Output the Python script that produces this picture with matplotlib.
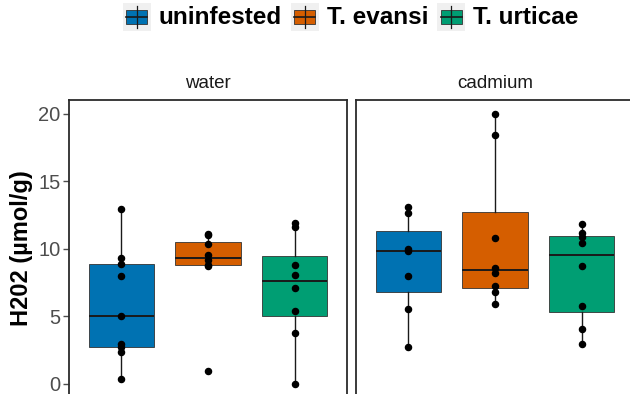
import matplotlib
matplotlib.use("Agg")
import matplotlib.pyplot as plt
from matplotlib.patches import Rectangle
from matplotlib.lines import Line2D


# H2O2 content per plant, grouped by treatment (panel) and herbivore (box)
treatments = ["water", "cadmium"]
groups = ["uninfested", "T. evansi", "T. urticae"]
colors = ["#0072B2", "#D55E00", "#009E73"]

water_uninfested = [0.37, 2.4, 2.74, 2.95, 5.06, 8.02, 8.89, 9.31, 12.94]
water_evansi = [0.96, 8.75, 8.82, 9.15, 9.55, 10.35, 11.0, 11.1]
water_urticae = [0.0, 3.75, 5.43, 7.09, 8.07, 8.77, 11.6, 11.9]

cadmium_uninfested = [2.77, 5.56, 8.02, 9.8, 9.95, 12.62, 13.06]
cadmium_evansi = [5.95, 6.79, 7.21, 8.2, 8.6, 10.81, 18.44, 20.0]
cadmium_urticae = [2.96, 4.1, 5.73, 8.7, 10.4, 10.9, 11.2, 11.8]

panel_data = {
    "water": [water_uninfested, water_evansi, water_urticae],
    "cadmium": [cadmium_uninfested, cadmium_evansi, cadmium_urticae],
}

yticks = [0, 5, 10, 15, 20]

plt.rcParams["font.family"] = ["Liberation Sans", "DejaVu Sans"]

W, H = 630, 394
fig = plt.figure(figsize=(W / 100, H / 100), dpi=100)


def fx(x):
    return x / W


def fy(y):
    return 1 - y / H


# panel geometry in pixels (top-left origin); y range -1..21 as ggplot expands
panel_top, panel_bottom = 100, 397.5
panel_w = 278
panel_left = [69, 356]

for i, name in enumerate(treatments):
    ax = fig.add_axes([fx(panel_left[i]), fy(panel_bottom),
                       fx(panel_w), (panel_bottom - panel_top) / H])
    data = panel_data[name]
    pos = [1, 2, 3]

    bp = ax.boxplot(data, positions=pos, widths=0.75, patch_artist=True,
                    showcaps=False, showfliers=False, whis=1.5,
                    medianprops=dict(color="#1a1a1a", linewidth=1.4),
                    whiskerprops=dict(color="#1a1a1a", linewidth=1.0),
                    boxprops=dict(edgecolor="#333333", linewidth=0.6),
                    zorder=2)
    for patch, c in zip(bp["boxes"], colors):
        patch.set_facecolor(c)

    for p, vals in zip(pos, data):
        ax.plot([p] * len(vals), vals, "o", color="black",
                markersize=4.4, zorder=3)

    ax.set_xlim(0.4, 3.6)
    ax.set_ylim(-1, 21)
    ax.set_xticks([])
    for s in ax.spines.values():
        s.set_color("#2b2b2b")
        s.set_linewidth(1.3)

    if i == 0:
        ax.set_yticks(yticks)
        ax.set_yticklabels([str(t) for t in yticks])
        ax.tick_params(axis="y", length=4, width=1, color="#4d4d4d",
                       labelcolor="#4d4d4d", labelsize=14.5, pad=2)
    else:
        ax.set_yticks([])

    # facet label
    fig.text(fx(panel_left[i] + panel_w / 2), fy(84), name,
             ha="center", va="center", fontsize=13.5, color="#1a1a1a")

fig.text(fx(22), fy(248), "H202 (µmol/g)", rotation=90, ha="center",
         va="center", fontsize=17, fontweight="bold")

# legend along the top
renderer = fig.canvas.get_renderer()
key = 28
x = 122.7
ky0 = 3
for g, c in zip(groups, colors):
    fig.patches.append(Rectangle((fx(x), fy(ky0 + key)), fx(key), key / H,
                                 transform=fig.transFigure,
                                 facecolor="#f0f0f0", edgecolor="none"))
    cx = x + key / 2
    # whiskers
    fig.lines.append(Line2D([fx(cx), fx(cx)], [fy(ky0 + 2.8), fy(ky0 + 25.2)],
                            transform=fig.transFigure, color="#1a1a1a",
                            linewidth=0.9))
    fig.patches.append(Rectangle((fx(x + 3.5), fy(ky0 + 21)), fx(21), 14 / H,
                                 transform=fig.transFigure, facecolor=c,
                                 edgecolor="#333333", linewidth=0.6))
    fig.lines.append(Line2D([fx(x + 3.5), fx(x + 24.5)],
                            [fy(ky0 + 14), fy(ky0 + 14)],
                            transform=fig.transFigure, color="#1a1a1a",
                            linewidth=1.2))
    t = fig.text(fx(x + key + 8), fy(ky0 + key / 2 + 1), g, ha="left",
                 va="center", fontsize=17.5, fontweight="bold")
    bb = t.get_window_extent(renderer=renderer)
    x = x + key + 8 + bb.width + 9

fig.savefig("out.png", dpi=100)
